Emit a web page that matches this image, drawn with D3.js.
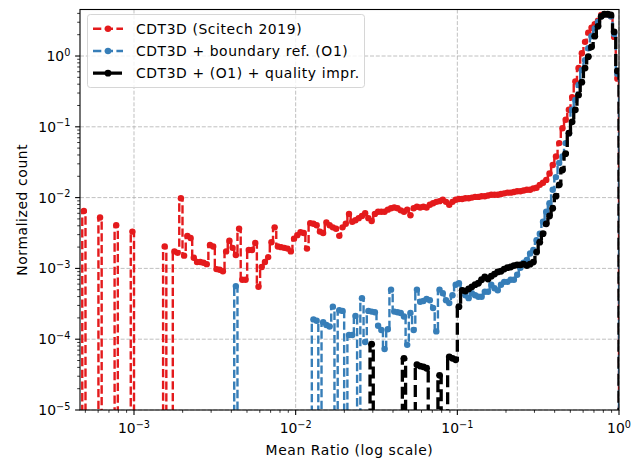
<!DOCTYPE html>
<html>
<head>
<meta charset="utf-8">
<script src="https://cdn.jsdelivr.net/npm/d3@7"></script>
<style>
body { margin: 0; background: #fff; }
svg { display: block; font-family: "DejaVu Sans", sans-serif; }
.label { letter-spacing: 0.6px; }
</style>
</head>
<body>
<svg id="chart" width="633" height="463"></svg>
<script>
// histogram bins: log10 edges start at -4, step 0.02 (bin k spans binLo + k*binStep ...)
var binLo = -4,
    binStep = 0.02,
    lastBin = 199;

// series labels
var labels = ['CDT3D (Scitech 2019)', 'CDT3D + boundary ref. (O1)', 'CDT3D + (O1) + quality impr.'];

// log10 of normalized count per bin, null = empty bin
var scitechStart = 34;
var scitechLog = [
    -2.19, null, null, null, null, -2.28, null, null, null, null,
    -2.39, null, null, null, null, -2.48, null, null, null, null,
    null, null, null, null, null, -2.69, null, null, -2.76, -2.78,
    -2.01, -2.82, -2.54, -2.57, -2.85, -2.91, -2.91, -2.92, -2.94, -2.67,
    -2.69, -3.01, -3.02, -3.04, -2.76, -2.61, -2.71, -2.81, -2.44, -3.16,
    -3.16, -2.74, -2.74, -2.64, -3.26, -2.98, -2.91, -2.84, -2.63, -2.42,
    -2.69, -2.70, -2.71, -2.72, -2.76, -2.58, -2.53, -2.49, -2.50, -2.72,
    -2.36, -2.37, -2.39, -2.48, -2.50, -2.35, -2.39, -2.42, -2.44, -2.54,
    -2.42, -2.37, -2.23, -2.34, -2.32, -2.29, -2.26, -2.22, -2.29, -2.33,
    -2.23, -2.20, -2.20, -2.20, -2.17, -2.15, -2.14, -2.15, -2.18, -2.20,
    -2.17, -2.25, -2.15, -2.13, -2.14, -2.13, -2.14, -2.10, -2.08, -2.06,
    -2.05, -2.03, -2.06, -2.10, -2.06, -2.03, -2.02, -2.02, -2.01, -2.01,
    -2.00, -1.99, -1.99, -1.98, -1.98, -1.97, -1.96, -1.96, -1.96, -1.95,
    -1.94, -1.93, -1.93, -1.92, -1.91, -1.91, -1.90, -1.89, -1.89, -1.87,
    -1.86, -1.82, -1.79, -1.75, -1.66, -1.54, -1.42, -1.23, -1.02, -0.90,
    -0.76, -0.58, -0.36, -0.17, 0.04, 0.20, 0.33, 0.40, 0.45, 0.50,
    0.58, 0.59, 0.59, 0.56, 0.27, -0.32
];

var boundaryStart = 81;
var boundaryLog = [
    -3.25, null, null, null, null, null, null, null, null, null,
    null, null, null, null, null, null, null, null, null, null,
    null, null, null, null, -3.72, -3.74, null, -3.76, -3.80, -3.82,
    -3.54, null, -3.59, -3.60, null, -3.94, -3.94, -3.67, null, -3.42,
    -4.04, -3.60, -3.61, -3.62, -3.81, -3.87, -4.14, -3.86, -3.30, -3.61,
    -3.62, -3.63, -3.68, -4.08, -3.63, -3.87, -3.30, -3.47, -3.46, -3.43,
    -3.45, -3.56, -3.89, -3.30, -3.35, -3.45, -3.49, -3.38, -3.23, -3.21,
    -3.31, -3.38, -3.42, -3.35, -3.38, -3.40, -3.40, -3.33, -3.33, -3.23,
    -3.28, -3.31, -3.23, -3.19, -3.19, -3.16, -3.16, -3.09, -2.99, -2.92,
    -2.88, -2.79, -2.74, -2.60, -2.51, -2.34, -2.20, -2.08, -1.89, -1.71,
    -1.51, -1.42, -1.23, -1.09, -0.76, -0.62, -0.41, -0.20, -0.06, 0.11,
    0.28, 0.39, 0.48, 0.56, 0.59, 0.59, 0.56, 0.31, -0.25
];

var qualityStart = 123;
var qualityLog = [
    -4.07, null, null, null, null, null, null, null, null, null,
    -4.27, null, null, null, -4.36, -4.38, -4.39, -4.41, null, null,
    null, -4.51, null, null, -4.25, -4.27, -4.29, -3.54, -3.31, -3.32,
    -3.29, -3.26, -3.23, -3.21, -3.16, -3.12, -3.15, -3.11, -3.08, -3.05,
    -3.04, -3.01, -2.99, -2.98, -2.96, -2.95, -2.95, -2.94, -2.96, -2.94,
    -2.91, -2.77, -2.63, -2.51, -2.37, -2.26, -2.15, -1.98, -1.82, -1.61,
    -1.38, -1.09, -0.93, -0.76, -0.55, -0.37, -0.17, -0.01, 0.13, 0.28,
    0.42, 0.56, 0.59, 0.59, 0.58, 0.34, -0.21
];

// axis ticks
var xMajor = [1e-3, 1e-2, 1e-1, 1];
var xMajorExp = ['\u22123', '\u22122', '\u22121', '0'];
var yMajor = [1e-5, 1e-4, 1e-3, 1e-2, 1e-1, 1];
var yMajorExp = ['\u22125', '\u22124', '\u22123', '\u22122', '\u22121', '0'];

var series = [
    {start: scitechStart, vals: scitechLog, color: '#e41a1c', width: 2.4, dash: '8.3,3.4', r: 3.2},
    {start: boundaryStart, vals: boundaryLog, color: '#377eb8', width: 2.4, dash: '8.3,3.4', r: 3.2},
    {start: qualityStart, vals: qualityLog, color: '#000000', width: 3.3, dash: '12,5', r: 3.4}
];

var plot = {left: 80, right: 619, top: 9.5, bottom: 410};

var svg = d3.select('#chart');

var x = d3.scaleLog().domain([Math.pow(10, -3.334), 1]).range([plot.left, plot.right]);
var y = d3.scaleLog().domain([1e-5, Math.pow(10, 0.657)]).range([plot.bottom, plot.top]);

function binCenter(k){
    return Math.pow(10, binLo + binStep * (k + 0.5));
}

function addPow(textSel, exp){
    textSel.append('tspan').text('10');
    textSel.append('tspan').attr('dy', -5.5).attr('font-size', 9.7).text(exp);
}

svg.append('defs').append('clipPath').attr('id', 'plotClip')
    .append('rect')
        .attr('x', plot.left).attr('y', plot.top)
        .attr('width', plot.right - plot.left).attr('height', plot.bottom - plot.top);

// grid
var grid = svg.append('g').attr('stroke', '#b0b0b0').attr('stroke-width', 0.8).attr('stroke-dasharray', '4,1.8');
grid.selectAll('.gx').data(xMajor).enter().append('line')
    .attr('x1', function(d){ return x(d); }).attr('x2', function(d){ return x(d); })
    .attr('y1', plot.top).attr('y2', plot.bottom);
grid.selectAll('.gy').data(yMajor).enter().append('line')
    .attr('y1', function(d){ return y(d); }).attr('y2', function(d){ return y(d); })
    .attr('x1', plot.left).attr('x2', plot.right);

// series
var line = d3.line()
    .x(function(d){ return x(binCenter(d.k)); })
    .y(function(d){ return d.v === null ? plot.bottom + 60 : y(Math.pow(10, d.v)); })
    .curve(d3.curveStep);

var dataG = svg.append('g').attr('clip-path', 'url(#plotClip)');

series.forEach(function(s){
    var pts = [{k: s.start - 1, v: null}];
    s.vals.forEach(function(v, i){ pts.push({k: s.start + i, v: v}); });
    pts.push({k: lastBin + 1, v: null});

    dataG.append('path')
        .attr('d', line(pts))
        .attr('fill', 'none')
        .attr('stroke', s.color)
        .attr('stroke-width', s.width)
        .attr('stroke-dasharray', s.dash)
        .attr('stroke-linejoin', 'round');

    dataG.selectAll(null)
        .data(pts.filter(function(d){ return d.v !== null; }))
        .enter().append('circle')
            .attr('cx', function(d){ return x(binCenter(d.k)); })
            .attr('cy', function(d){ return y(Math.pow(10, d.v)); })
            .attr('r', s.r)
            .attr('fill', s.color);
});

// spines
svg.append('rect')
    .attr('x', plot.left).attr('y', plot.top)
    .attr('width', plot.right - plot.left).attr('height', plot.bottom - plot.top)
    .attr('fill', 'none').attr('stroke', '#000').attr('stroke-width', 1.1);

// minor ticks
var xMinor = [], yMinor = [];
for(var d = -4; d <= 0; d++){
    for(var m = 2; m <= 9; m++){
        var v = m * Math.pow(10, d);
        if(v > x.domain()[0] && v < 1){ xMinor.push(v); }
    }
}
for(var d = -5; d <= 0; d++){
    for(var m = 2; m <= 9; m++){
        var v = m * Math.pow(10, d);
        if(v < y.domain()[1]){ yMinor.push(v); }
    }
}

var ticks = svg.append('g').attr('stroke', '#000');
ticks.selectAll('.xm').data(xMinor).enter().append('line')
    .attr('x1', function(d){ return x(d); }).attr('x2', function(d){ return x(d); })
    .attr('y1', plot.bottom).attr('y2', plot.bottom + 2.8).attr('stroke-width', 0.8);
ticks.selectAll('.ym').data(yMinor).enter().append('line')
    .attr('y1', function(d){ return y(d); }).attr('y2', function(d){ return y(d); })
    .attr('x1', plot.left).attr('x2', plot.left - 2.8).attr('stroke-width', 0.8);
ticks.selectAll('.xM').data(xMajor).enter().append('line')
    .attr('x1', function(d){ return x(d); }).attr('x2', function(d){ return x(d); })
    .attr('y1', plot.bottom).attr('y2', plot.bottom + 4.9).attr('stroke-width', 1.1);
ticks.selectAll('.yM').data(yMajor).enter().append('line')
    .attr('y1', function(d){ return y(d); }).attr('y2', function(d){ return y(d); })
    .attr('x1', plot.left).attr('x2', plot.left - 4.9).attr('stroke-width', 1.1);

// tick labels
xMajor.forEach(function(d, i){
    var t = svg.append('text')
        .attr('x', x(d)).attr('y', 433)
        .attr('text-anchor', 'middle').attr('font-size', 13.9);
    addPow(t, xMajorExp[i]);
});
yMajor.forEach(function(d, i){
    var t = svg.append('text')
        .attr('x', 70.3).attr('y', y(d) + 5)
        .attr('text-anchor', 'end').attr('font-size', 13.9);
    addPow(t, yMajorExp[i]);
});

// axis titles
svg.append('text')
    .attr('class', 'label')
    .attr('x', (plot.left + plot.right) / 2).attr('y', 455)
    .attr('text-anchor', 'middle').attr('font-size', 13.9)
    .text('Mean Ratio (log scale)');
svg.append('text')
    .attr('class', 'label')
    .attr('transform', 'translate(27,' + ((plot.top + plot.bottom) / 2) + ') rotate(-90)')
    .attr('text-anchor', 'middle').attr('font-size', 13.9)
    .text('Normalized count');

// legend
var legend = svg.append('g');
legend.append('rect')
    .attr('x', 87.5).attr('y', 14.5).attr('width', 277).attr('height', 73)
    .attr('rx', 2.8)
    .attr('fill', '#fff').attr('fill-opacity', 0.8)
    .attr('stroke', '#d6d6d6').attr('stroke-width', 1);

series.forEach(function(s, i){
    var rowY = 28.8 + i * 22.2;
    legend.append('line')
        .attr('x1', 93).attr('x2', 123).attr('y1', rowY).attr('y2', rowY)
        .attr('stroke', s.color).attr('stroke-width', s.width)
        .attr('stroke-dasharray', s.dash);
    legend.append('circle')
        .attr('cx', 108).attr('cy', rowY).attr('r', s.r).attr('fill', s.color);
    legend.append('text')
        .attr('class', 'label')
        .attr('x', 136).attr('y', rowY + 5)
        .attr('font-size', 13.9)
        .text(labels[i]);
});
</script>
</body>
</html>
